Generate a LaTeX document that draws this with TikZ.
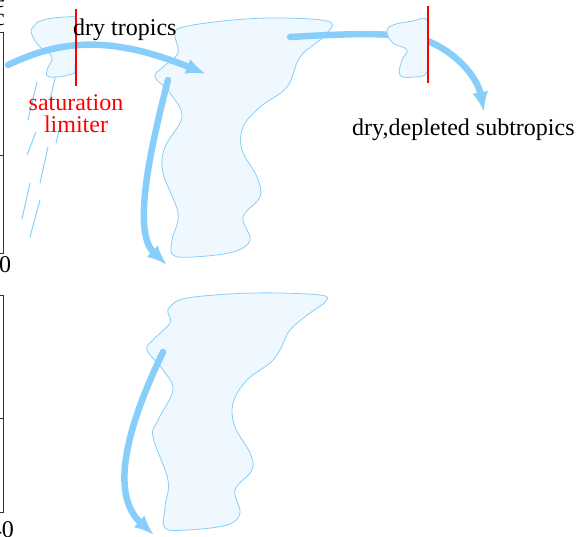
\documentclass[tikz,border=0pt]{standalone}
\usepackage{fontspec}
\setmainfont{Liberation Serif}
\usetikzlibrary{arrows.meta, positioning}
\definecolor{skyline}{HTML}{87CEFA}
\definecolor{skyfill}{HTML}{F0F8FF}

\begin{document}
\begin{tikzpicture}[x=1pt, y=-1pt,
		flow/.style={draw=skyline, line width=6.5pt, line cap=round, -{Latex[length=20pt,width=16pt]}},
		cloudbody/.style={draw=skyline, fill=skyfill, line width=0.8pt},
		limiter/.style={draw=red, line width=2.8pt},
		rain/.style={draw=skyline, line width=1pt},
		frame/.style={draw=black!80, line width=0.9pt},
		lbl/.style={inner sep=0pt, font=\fontsize{24}{22}\selectfont}]
		\useasboundingbox (0,0) rectangle (580,536);
		\clip (0,0) rectangle (580,536);

		% axes of the neighbouring panels
		\draw[frame] (-10,32) -| (3,253) -- (-10,253);
		\draw[frame] (3,155) -- (-2,155);
		\draw[frame] (-10,295) -| (3,512) -- (-10,512);
		\draw[frame] (3,418) -- (-2,418);
		\draw (5,7) node[lbl, anchor=base east] (ytop) {e}
		(5,25) node[lbl, anchor=base east] (yunit) {c}
		(5,272) node[lbl, anchor=base] (xzero) {0}
		(2,537) node[lbl, anchor=base] (xforty) {40};

		% end points of the flows
		\coordinate (a1) at (8,65);
		\coordinate (a2) at (206,74);
		\coordinate (b1) at (168,80);
		\coordinate (b2) at (167,265);
		\coordinate (c1) at (290,37);
		\coordinate (c2) at (430,42);
		\coordinate (c3) at (484,112);
		\coordinate (d1) at (163,352);
		\coordinate (d2) at (154,535);

		% clouds, upper panel
		\draw[cloudbody] plot[smooth cycle, tension=0.7] coordinates {
			(33,27) (43,20) (67,17) (76,20) (76,45) (75,67) (72,74) (50,77) (47,70) (52,57) (40,47) (32,35)};
		\draw[cloudbody] plot[smooth cycle, tension=0.6] coordinates {
			(183,27) (233,20) (283,18) (330,22) (323,37) (300,57) (287,87) (260,107) (243,127)
			(242,150) (257,177) (260,197) (243,217) (250,240) (233,252) (193,257) (173,255)
			(172,240) (178,213) (163,173) (165,147) (182,117) (170,93) (155,77) (163,67)
			(178,53) (175,35)};

		% rain below the small cloud
		\foreach \xa/\ya/\xb/\yb in {37/82/28/120, 36/132/27/155, 30/183/22/219,
				55/78/50/100, 61/122/56/143, 48/147/40/183, 40/200/30/237}
			\draw[rain] (\xa,\ya) -- (\xb,\yb);

		\draw[flow] (a1) .. controls (60,40) and (110,35) .. (a2);
		\draw[flow] (b1) .. controls (150,150) and (132,232) .. (b2);
		\draw[flow] (c1) .. controls (360,33) and (400,32) .. (c2)
			.. controls (460,55) and (478,80) .. (c3);

		\draw[cloudbody] plot[smooth cycle, tension=0.7] coordinates {
			(387,32) (393,25) (413,21) (427,20) (428,45) (427,72) (413,77) (400,75)
			(402,60) (407,50) (393,43)};

		% clouds, lower panel
		\draw[cloudbody] plot[smooth cycle, tension=0.6] coordinates {
			(170,307) (187,298) (253,293) (320,295) (325,302) (310,313) (290,330) (280,350)
			(270,363) (247,380) (233,403) (235,427) (250,453) (252,470) (235,490) (240,513)
			(227,525) (187,530) (165,528) (165,507) (168,480) (153,437) (158,420) (173,390)
			(163,370) (147,350) (153,340) (170,323) (168,313)};
		\draw[flow] (d1) .. controls (135,410) and (105,490) .. (d2);

		% saturation limiters
		\draw (76,9) coordinate (s1top) (76,86) coordinate (s1bot)
		(428,6) coordinate (s2top) (428,83) coordinate (s2bot);
		\draw[limiter] (s1top) -- (s1bot);
		\draw[limiter] (s2top) -- (s2bot);

		\draw (73,35) node[lbl, anchor=base west] (dry) {dry tropics}
		(76,94) node[lbl, anchor=north, align=center, text=red] (sat) {saturation\\limiter}
		(352,135) node[lbl, anchor=base west] (sub) {dry,depleted subtropics};
	\end{tikzpicture}
\end{document}
